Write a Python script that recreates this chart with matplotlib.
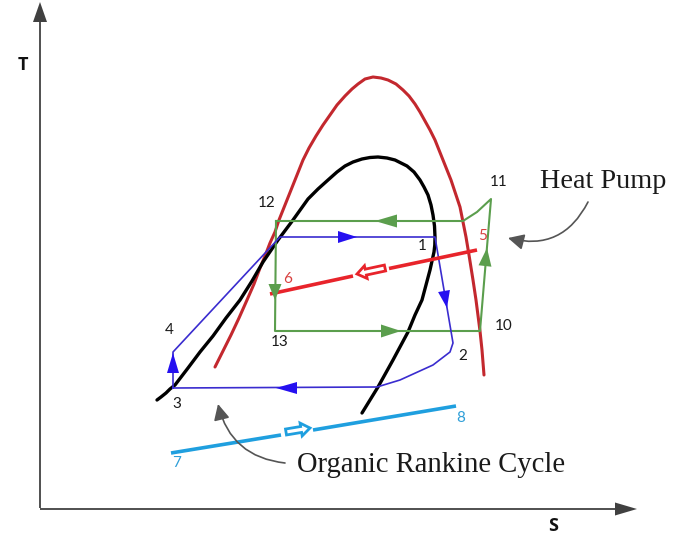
import matplotlib
matplotlib.use("Agg")
import matplotlib.pyplot as plt

# Schematic T-s diagram: heat pump cycle coupled with an organic Rankine cycle.
# Coordinates are in drawing units (s to the right, t measured downward on canvas).

# Saturation dome of the heat-pump working fluid
hp_dome_s = [215, 223, 231, 239, 247, 254, 260, 265, 270, 275, 279, 285, 291,
             297, 303, 309, 316, 323, 330, 337, 345, 352, 358, 365, 373,
             381, 388, 396, 403, 409, 415, 420, 425, 430, 435, 439, 443, 447,
             451, 454, 457, 460, 462, 464, 466, 469, 473, 476, 480, 482, 484]
hp_dome_t = [367, 351, 335, 318, 300, 284, 268, 256, 243, 232, 220, 205, 190,
             175, 160, 148, 136, 125, 115, 105, 96, 89, 84, 79, 77,
             78, 80, 84, 90, 96, 104, 112, 121, 130, 140, 150, 160, 170,
             180, 189, 198, 207, 217, 227, 237, 255, 280, 300, 331, 350, 375]

# Saturation dome of the organic working fluid
orc_dome_s = [157, 161, 166, 170, 175, 188, 200, 213, 226, 240, 252, 263, 278,
              293, 308, 318, 328, 337, 345, 353, 362, 370, 378, 387, 395, 401,
              407, 414, 420, 424, 428, 431, 433, 434.5, 435, 434.8, 434, 432,
              430, 426, 422, 415, 408, 393, 378, 370, 362]
orc_dome_t = [400, 397, 393, 389, 385, 368, 352, 336, 318, 300, 281, 262, 240,
              220, 199, 189, 180, 172, 166, 162, 159, 157.5, 157, 158, 160, 163,
              166, 172, 180, 187, 195, 205, 215, 226, 237, 245, 252, 261,
              270, 285, 300, 315, 332, 360, 387, 400, 413]

# Heat pump cycle 12 -> 13 -> 10 -> 11 -> 12
hp_cycle_s = [276, 275, 480, 491, 477, 463, 276]
hp_cycle_t = [221, 331, 331, 199, 212, 221, 221]

# Organic Rankine cycle 3 -> 4 -> 1 -> 2 -> 3
orc_cycle_s = [173, 173, 280, 435, 453, 450, 433, 400, 377, 173]
orc_cycle_t = [388, 352, 237, 237, 343, 352, 365, 380, 387, 388]

# Heat source stream 5 -> 6 and heat sink stream 7 -> 8 (two pieces each)
source_s = [[477, 389], [353, 270]]
source_t = [[250, 268.5], [276, 294]]
sink_s = [[171, 281], [313, 456]]
sink_t = [[453, 435], [430, 406]]

# Flow-direction heads: (tail s, tail t, tip s, tip t)
orc_heads = [(338, 237, 357, 237), (297, 388, 276, 388),
             (173, 373, 173, 353), (444, 291, 447, 308)]
hp_heads = [(397, 221, 375, 221), (381, 331, 401, 331),
            (485, 266, 487, 248), (275, 284, 275, 300)]
source_head = (385, 268, 357, 274)
sink_head = (286, 432, 310, 428)

# State point labels: text, s, t
state_labels = [("1", 422, 246), ("2", 463, 356), ("3", 177, 404),
                ("4", 169, 330), ("10", 504, 326), ("11", 499, 182),
                ("12", 267, 203), ("13", 280, 342)]
source_labels = [("5", 483, 236), ("6", 288, 279)]
sink_labels = [("7", 177, 463), ("8", 461, 418)]

RED_DOME = "#c3282e"
BLUE = "#3a2ccf"
BLUE_HEAD = "#2510f0"
GREEN = "#5b9e4d"
RED = "#e8242b"
CYAN = "#1f9fdf"
AXIS = "#404040"
NOTE = "#555555"

fig = plt.figure(figsize=(6.77, 5.37), dpi=100)
ax = fig.add_axes([0, 0, 1, 1])
ax.set_xlim(0, 677)
ax.set_ylim(537, 0)
ax.axis("off")

# Coordinate axes with arrowheads
ax.arrow(40, 508, 0, -506, width=1.8, head_width=14, head_length=20,
         length_includes_head=True, color=AXIS, lw=0)
ax.arrow(40, 509, 597, 0, width=1.8, head_width=13, head_length=22,
         length_includes_head=True, color=AXIS, lw=0)
ax.text(23, 65, "T", fontsize=13, fontweight="bold", family="Open Sans",
        ha="center", va="center", color="#111111")
ax.text(553, 526, "S", fontsize=13, fontweight="bold", family="Open Sans",
        ha="center", va="center", color="#111111")

# Domes
ax.plot(hp_dome_s, hp_dome_t, color=RED_DOME, lw=2.2, solid_joinstyle="round",
        solid_capstyle="round")
ax.plot(orc_dome_s, orc_dome_t, color="black", lw=2.4, solid_joinstyle="round",
        solid_capstyle="round")

# Cycles
ax.plot(hp_cycle_s, hp_cycle_t, color=GREEN, lw=1.5, solid_joinstyle="round")
ax.plot(orc_cycle_s, orc_cycle_t, color=BLUE, lw=1.2, solid_joinstyle="round")


def head(p, color, width):
    ts, tt, hs, ht = p
    ax.arrow(ts, tt, hs - ts, ht - tt, width=0, head_width=width,
             head_length=((hs - ts) ** 2 + (ht - tt) ** 2) ** 0.5,
             length_includes_head=True, color=color, lw=0, zorder=4)


for p in orc_heads:
    head(p, BLUE_HEAD, 12)
for p in hp_heads:
    head(p, GREEN, 13)

# External streams
for ss, tt in zip(source_s, source_t):
    ax.plot(ss, tt, color=RED, lw=2.6, solid_capstyle="butt")
for ss, tt in zip(sink_s, sink_t):
    ax.plot(ss, tt, color=CYAN, lw=2.6, solid_capstyle="butt")


def hollow(p, color):
    ts, tt, hs, ht = p
    ax.arrow(ts, tt, hs - ts, ht - tt, width=6, head_width=13, head_length=9,
             length_includes_head=True, fc="white", ec=color, lw=2.0, zorder=5)


hollow(source_head, RED)
hollow(sink_head, CYAN)

# Labels
num_font = dict(fontsize=11, family="Lato", ha="center", va="center")
for txt, s, t in state_labels:
    ax.text(s, t, txt, color="#1a1a1a", **num_font)
for txt, s, t in source_labels:
    ax.text(s, t, txt, color="#d8403f", **num_font)
for txt, s, t in sink_labels:
    ax.text(s, t, txt, color="#2f9fd8", **num_font)

serif = dict(family="Liberation Serif", color="#1a1a1a", va="center")
ax.text(540, 182, "Heat Pump", ha="left", fontsize=20.3, **serif)
ax.text(297, 465, "Organic Rankine Cycle", ha="left", fontsize=20.6, **serif)

arrow_kw = dict(arrowstyle="-|>,head_length=0.8,head_width=0.4",
                mutation_scale=12, color=NOTE, lw=1.2, shrinkA=0, shrinkB=0)
ax.annotate("", xy=(508, 238), xytext=(588, 202),
            arrowprops=dict(connectionstyle="arc3,rad=-0.4", **arrow_kw))
ax.annotate("", xy=(218, 404), xytext=(285, 463),
            arrowprops=dict(connectionstyle="arc3,rad=-0.35", **arrow_kw))

fig.savefig("out.png", dpi=100)
